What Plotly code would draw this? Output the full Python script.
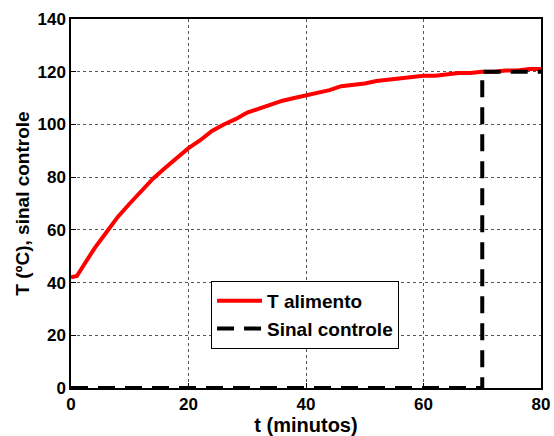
import plotly.graph_objects as go

t_min = [0, 1, 2, 4, 6, 8, 10, 12, 14, 16, 18, 20, 22, 24, 26, 28, 30, 32, 34, 36, 38, 40,
         42, 44, 46, 48, 50, 52, 54, 56, 58, 60, 62, 64, 66, 68, 70, 72, 74, 76, 78, 80]
t_alimento = [42, 42.5, 46, 53, 59, 65, 70, 75, 79.5, 83.5, 87.5, 91, 94, 97.5, 100, 102,
              104.5, 106, 107.5, 109, 110, 111, 112, 113, 114.5, 115, 115.5, 116.5, 117,
              117.5, 118, 118.5, 118.5, 119, 119.5, 119.5, 120, 120, 120.5, 120.5, 121, 121]
sinal_t = [0, 70, 70, 80]
sinal_v = [0, 0, 120, 120]

font = "Liberation Sans, Arial, sans-serif"

fig = go.Figure()
fig.add_trace(go.Scatter(x=t_min, y=t_alimento, mode="lines", name="T alimento",
                         line=dict(color="#ff0000", width=4)))
fig.add_trace(go.Scatter(x=sinal_t, y=sinal_v, mode="lines", name="Sinal controle",
                         line=dict(color="#000000", width=4, dash="17px,10px")))

axis_common = dict(showline=True, linecolor="black", linewidth=1.5, mirror=True,
                   showgrid=True, gridcolor="#555555", griddash="dot", gridwidth=1,
                   ticks="inside", ticklen=5, tickcolor="black", zeroline=False,
                   automargin=False,
                   tickfont=dict(family=font, size=17, color="black", weight="bold"))

fig.update_xaxes(range=[0, 80], dtick=20, **axis_common,
                 title=dict(text="t (minutos)", standoff=6,
                            font=dict(family=font, size=20, color="black", weight="bold")))
fig.update_yaxes(range=[0, 140], dtick=20, **axis_common,
                 title=dict(text="T (ºC), sinal controle", standoff=3,
                            font=dict(family=font, size=19, color="black", weight="bold")))

fig.update_layout(
    width=554, height=436,
    margin=dict(l=71, r=13, t=19, b=48),
    plot_bgcolor="white", paper_bgcolor="white",
    legend=dict(x=0.298, y=0.29, xanchor="left", yanchor="top",
                bgcolor="white", bordercolor="black", borderwidth=1,
                itemwidth=45,
                font=dict(family=font, size=19, color="black", weight="bold"),
                tracegroupgap=0),
)

fig.write_html("out.html", config={"displayModeBar": False},
               post_script="document.body.style.margin='0';document.body.style.overflow='hidden';")
